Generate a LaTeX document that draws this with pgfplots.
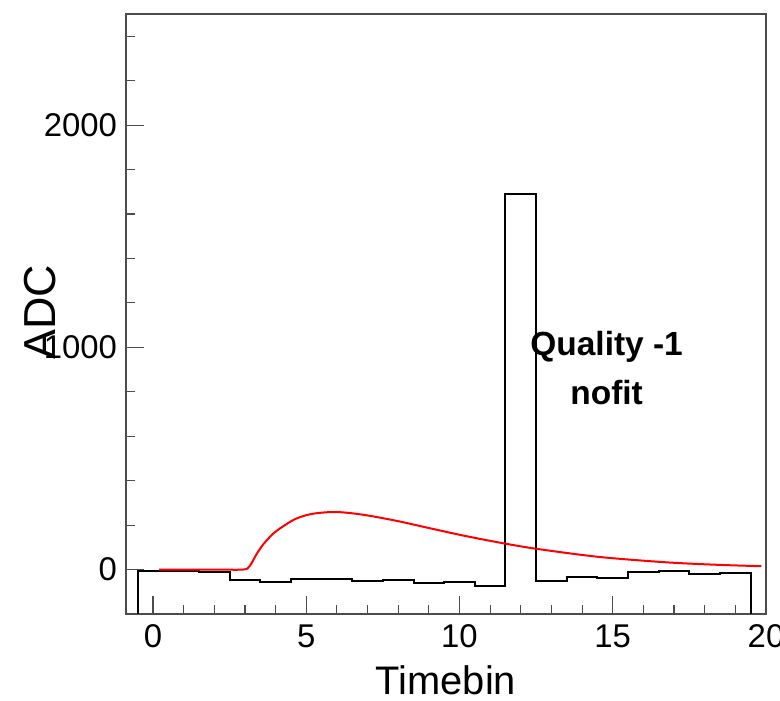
\documentclass[border=0pt]{standalone}
\usepackage{fontspec}
\setmainfont{Liberation Sans}
\usepackage{pgfplots}
\pgfplotsset{compat=1.18}
\begin{document}
\begin{tikzpicture}
\begin{axis}[
  scale only axis,
  width=320bp, height=300bp,
  xmin=-0.88, xmax=20,
  ymin=-200, ymax=2500,
  axis line style={black!70, line width=0.6pt},
  xtick={0,5,10,15,20},
  ytick={0,1000,2000},
  minor xtick={1,2,3,4,6,7,8,9,11,12,13,14,16,17,18,19},
  minor ytick={200,400,600,800,1200,1400,1600,1800,2200,2400},
  tick align=inside,
  xtick pos=bottom, ytick pos=left,
  major tick length=9bp, minor tick length=4.5bp,
  every tick/.style={black!70, line width=0.6pt},
  tick label style={font=\fontsize{16.5}{18}\selectfont},
  /pgf/number format/assume math mode=true,
  /pgf/number format/1000 sep={},
  xticklabel style={yshift=-2bp},
  yticklabel style={xshift=-1bp},
  xlabel={Timebin},
  ylabel={ADC},
  xlabel style={font=\fontsize{20}{22}\selectfont, at={(axis description cs:0.5,-0.11)}, anchor=center},
  ylabel style={font=\fontsize{22.5}{24}\selectfont, at={(axis description cs:-0.134,0.503)}, anchor=center, rotate=0},
  clip=true,
]
\addplot[black, line width=1bp, const plot mark left] coordinates {
(-0.5,-200) (-0.5,-5) (0.5,-5) (1.5,-12) (2.5,-45) (3.5,-57) (4.5,-42) (5.5,-42)
(6.5,-50) (7.5,-48) (8.5,-60) (9.5,-58) (10.5,-72) (11.5,1690) (12.5,-52)
(13.5,-34) (14.5,-40) (15.5,-12) (16.5,-6) (17.5,-19) (18.5,-15) (19.5,-15) (19.5,-200)
};
\addplot[red, line width=1bp, smooth, tension=0.5] coordinates {
(0.2,0) (1,0) (2,0) (2.94,0) (3.15,15) (3.37,67) (3.59,112) (3.91,160) (4.24,194)
(4.67,229) (5.21,251) (5.97,259) (6.84,247) (7.92,220) (9.0,187) (10.09,154)
(11.28,122) (12.48,94) (14.54,57) (16.7,33) (18.3,22) (19.85,15)
};
\node[font=\bfseries\fontsize{16.8}{19}\selectfont, align=center] at (axis cs:14.8,1000) {Quality -1};
\node[font=\bfseries\fontsize{16.8}{19}\selectfont, align=center] at (axis cs:14.8,795) {nofit};
\end{axis}
\pgfresetboundingbox
\path[use as bounding box] (current axis.south west) ++(-63bp,-43.5bp) rectangle ([xshift=7bp,yshift=7bp]current axis.north east);
\end{tikzpicture}
\end{document}
